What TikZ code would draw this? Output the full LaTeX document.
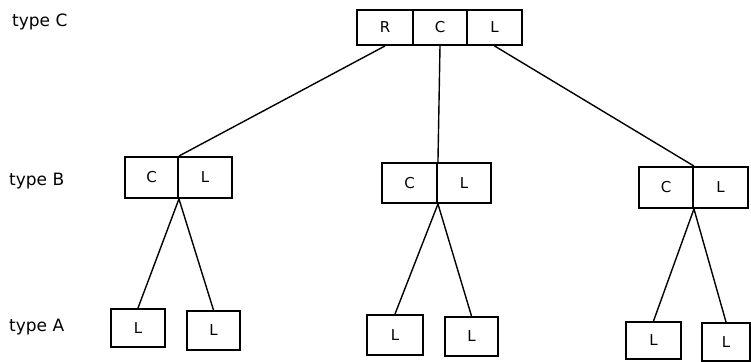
\documentclass[tikz,border=0pt]{standalone}
\usepackage{fontspec}
\setmainfont{DejaVu Sans}
\begin{document}
\begin{tikzpicture}[x=1pt,y=-1pt,
  cell/.style={draw, line width=1.9pt, inner sep=0pt, font=\fontsize{15}{15}\selectfont},
  lbl/.style={anchor=west, inner sep=0pt, font=\fontsize{17}{17}\selectfont},
  conn/.style={line width=1.4pt}]
\useasboundingbox (0,0) rectangle (751,361);
% labels
\node[lbl] (tC) at (12,22) {type C};
\node[lbl] (tB) at (9,181) {type B};
\node[lbl] (tA) at (9,327) {type A};
% top node
\node[cell, minimum width=56pt, minimum height=35pt] (TR) at (385,27.5) {R};
\node[cell, minimum width=54pt, minimum height=35pt] (TC) at (440,27.5) {C};
\node[cell, minimum width=55pt, minimum height=35pt] (TL) at (494.5,27.5) {L};
% type B left
\node[cell, minimum width=53pt, minimum height=41pt] (B1C) at (151.5,177.5) {C};
\node[cell, minimum width=54pt, minimum height=41pt] (B1L) at (205,177.5) {L};
% type B middle
\node[cell, minimum width=55pt, minimum height=40pt] (B2C) at (409.5,183) {C};
\node[cell, minimum width=54pt, minimum height=40pt] (B2L) at (464,183) {L};
% type B right
\node[cell, minimum width=54pt, minimum height=41pt] (B3C) at (666,187.5) {C};
\node[cell, minimum width=55pt, minimum height=41pt] (B3L) at (720.5,187.5) {L};
% type A
\node[cell, minimum width=54pt, minimum height=38pt] (A1) at (138,328) {L};
\node[cell, minimum width=53pt, minimum height=39pt] (A2) at (213.5,330.5) {L};
\node[cell, minimum width=56pt, minimum height=40pt] (A3) at (395,335) {L};
\node[cell, minimum width=53pt, minimum height=39pt] (A4) at (471.5,336.5) {L};
\node[cell, minimum width=55pt, minimum height=37pt] (A5) at (653.5,340.5) {L};
\node[cell, minimum width=48pt, minimum height=38pt] (A6) at (726,342) {L};
% connectors
\draw[conn] (TR.south) -- (B1C.north east);
\draw[conn] (TC.south) -- (B2C.north east);
\draw[conn] (TL.south) -- (B3C.north east);
\draw[conn] (B1C.south east) -- (A1.north);
\draw[conn] (B1C.south east) -- (A2.north);
\draw[conn] (B2C.south east) -- (A3.north);
\draw[conn] (B2C.south east) -- (A4.north);
\draw[conn] (B3C.south east) -- (A5.north);
\draw[conn] (B3C.south east) -- (A6.north);
\end{tikzpicture}
\end{document}
